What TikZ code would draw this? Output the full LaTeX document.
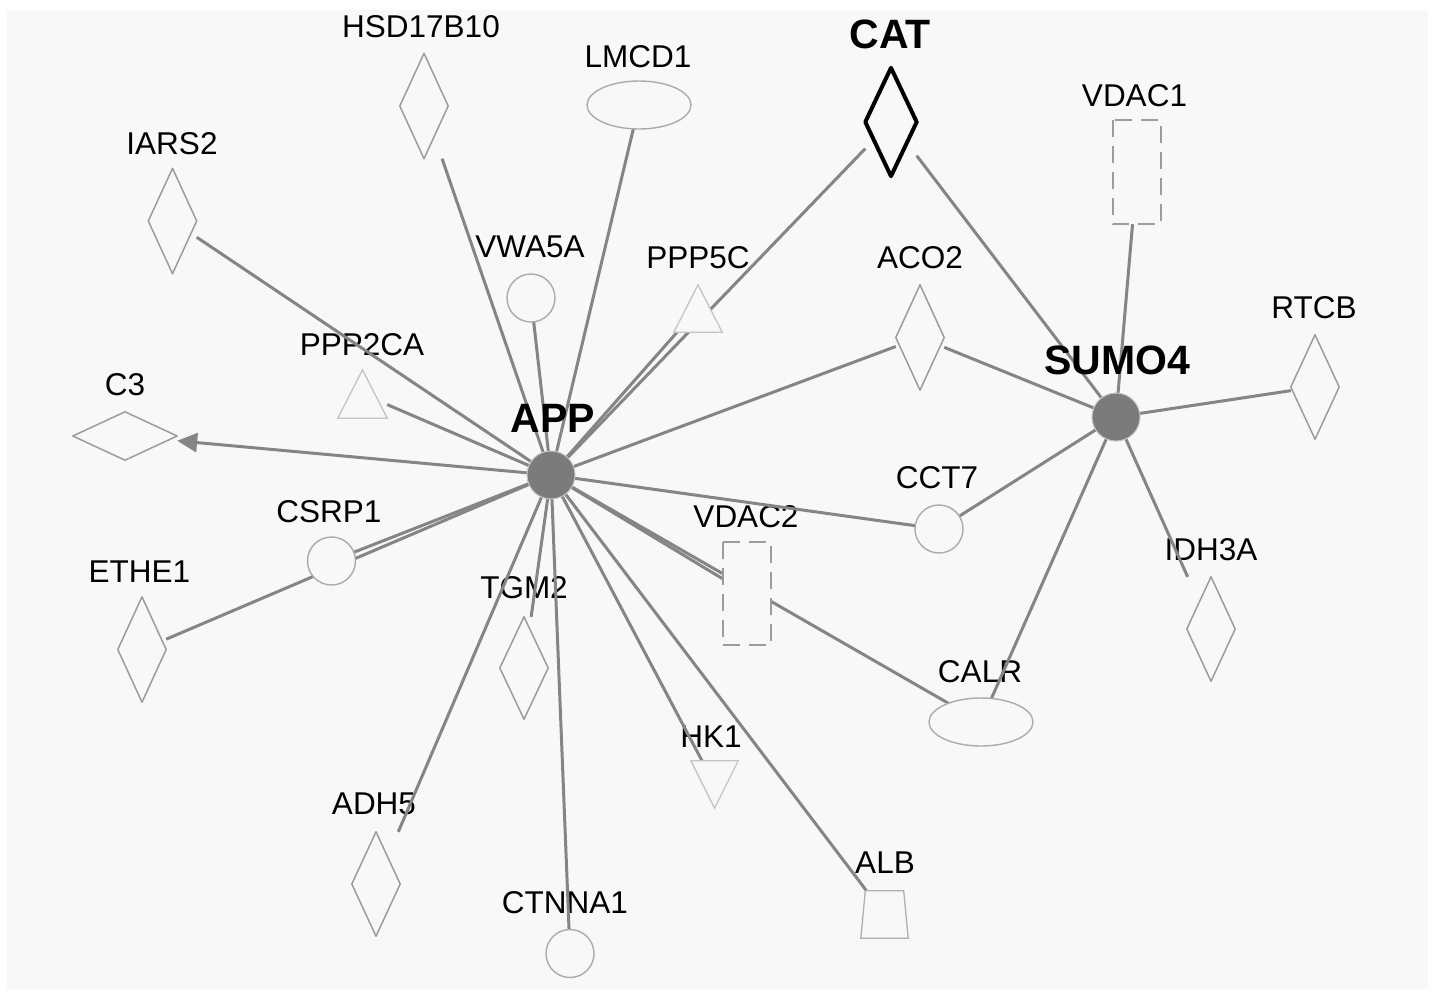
\documentclass[tikz,border=0pt]{standalone}
\usepackage{fontspec}
\setmainfont{Liberation Sans}
\usetikzlibrary{shapes.geometric,arrows.meta}
\definecolor{bggray}{HTML}{F8F8F8}
\definecolor{edgegray}{HTML}{858585}
\definecolor{outgray}{HTML}{9C9C9C}
\definecolor{trigray}{HTML}{C4C4C4}
\definecolor{hubgray}{HTML}{7B7B7B}
\begin{document}
\begin{tikzpicture}[x=1pt,y=-1pt,
  lbl/.style={anchor=base, inner sep=0pt, font=\fontsize{31.5}{36}\selectfont},
  blbl/.style={anchor=base, inner sep=0pt, font=\fontsize{41}{46}\selectfont\bfseries},
  bx/.style 2 args={rectangle, inner sep=0pt, minimum width=#1pt, minimum height=#2pt},
  cb/.style={circle, inner sep=0pt, minimum size=48pt},
  eb/.style={ellipse, inner sep=0pt, minimum width=104pt, minimum height=48pt},
  link/.style={draw=edgegray, line width=3pt},
  dia/.style={draw=outgray, line width=1.5pt, fill=bggray, line join=round},
  catdia/.style={draw=black, line width=4pt, fill=bggray, line join=round},
  tri/.style={draw=trigray, line width=1.3pt, fill=bggray},
  circ/.style={draw=outgray!85, line width=1.4pt, fill=bggray},
  dashbox/.style={draw=outgray, line width=1.8pt, fill=bggray, dash pattern=on 17pt off 9pt},
  hub/.style={fill=hubgray, draw=hubgray!45, line width=1pt}
]
\useasboundingbox (0,0) rectangle (1432,991);
\fill[white] (0,0) rectangle (1432,991);
\fill[bggray] (7,10) rectangle (1428,989);

% node anchors (invisible)
\node[bx={48}{105}] (HSD) at (424,106) {};
\node[bx={48}{105}] (IARS2) at (172.5,221) {};
\node[eb] (LMCD1) at (639,105) {};
\node[bx={51}{108}] (CAT) at (891,122) {};
\node[bx={48}{104}] (VDAC1) at (1137,172) {};
\node[cb] (VWA5A) at (531,298) {};
\node[bx={48}{47}] (PPP5C) at (698,308.5) {};
\node[bx={48}{105}] (ACO2) at (920,337.5) {};
\node[bx={48}{104}] (RTCB) at (1315,387) {};
\node[cb] (SUMO4) at (1116,417) {};
\node[cb] (APP) at (551,475) {};
\node[bx={49}{48}] (PPP2CA) at (362.5,394) {};
\node[bx={104}{48}] (C3) at (125,436) {};
\node[cb] (CSRP1) at (331.5,561) {};
\node[bx={48}{105}] (ETHE1) at (142,649.5) {};
\node[cb] (CCT7) at (939,529) {};
\node[bx={48}{103}] (VDAC2) at (747,593.5) {};
\node[bx={48}{102}] (TGM2) at (524,668) {};
\node[bx={48}{104}] (IDH3A) at (1211,629) {};
\node[eb] (CALR) at (981,722) {};
\node[bx={47}{47}] (HK1) at (714.5,784.5) {};
\node[bx={48}{104}] (ADH5) at (376,884) {};
\node[bx={47}{47}] (ALB) at (884.5,914.5) {};
\node[cb] (CTNNA1) at (570,953.5) {};

% regular labels
\node[lbl] (lHSD) at (421,37) {HSD17B10};
\node[lbl] (lLMCD1) at (638,67) {LMCD1};
\node[lbl] (lVDAC1) at (1134.5,106) {VDAC1};
\node[lbl] (lIARS2) at (172,154) {IARS2};
\node[lbl] (lVWA5A) at (530,257) {VWA5A};
\node[lbl] (lPPP5C) at (698,268) {PPP5C};
\node[lbl] (lACO2) at (920,268) {ACO2};
\node[lbl] (lRTCB) at (1314,318) {RTCB};
\node[lbl] (lPPP2CA) at (362,355) {PPP2CA};
\node[lbl] (lC3) at (125,395) {C3};
\node[lbl] (lCSRP1) at (329,522) {CSRP1};
\node[lbl] (lETHE1) at (139.5,582) {ETHE1};
\node[lbl] (lCCT7) at (937,488) {CCT7};
\node[lbl] (lVDAC2) at (746,527) {VDAC2};
\node[lbl] (lTGM2) at (524,598) {TGM2};
\node[lbl] (lIDH3A) at (1211,560) {IDH3A};
\node[lbl] (lCALR) at (980,682) {CALR};
\node[lbl] (lHK1) at (711,747) {HK1};
\node[lbl] (lADH5) at (374,814) {ADH5};
\node[lbl] (lALB) at (885,873) {ALB};
\node[lbl] (lCTNNA1) at (565,913) {CTNNA1};

% connectors
\foreach \t in {IARS2,HSD,LMCD1,VWA5A,PPP5C,CAT,ACO2,CCT7,VDAC2,CALR,ALB,HK1,CTNNA1,TGM2,ADH5,CSRP1,ETHE1,PPP2CA}
  \draw[link] (APP) -- (\t);
\draw[link, -{Triangle[length=20pt,width=19pt]}] (APP) -- (C3);
\foreach \t in {CAT,VDAC1,ACO2,RTCB,IDH3A,CALR,CCT7}
  \draw[link] (SUMO4) -- (\t);

% shapes
\foreach \n in {HSD,IARS2,ACO2,RTCB,ETHE1,TGM2,IDH3A,ADH5,C3}
  \draw[dia] (\n.north) -- (\n.east) -- (\n.south) -- (\n.west) -- cycle;
\draw[catdia] (CAT.north) -- (CAT.east) -- (CAT.south) -- (CAT.west) -- cycle;
\foreach \n in {PPP5C,PPP2CA}
  \draw[tri] (\n.north) -- (\n.south east) -- (\n.south west) -- cycle;
\draw[tri] (HK1.south) -- (HK1.north east) -- (HK1.north west) -- cycle;
\draw[tri, draw=outgray!80] ([xshift=4.5pt]ALB.north west) -- ([xshift=-4.5pt]ALB.north east) -- (ALB.south east) -- (ALB.south west) -- cycle;
\foreach \n in {VDAC1,VDAC2}
  \draw[dashbox] (\n.north west) rectangle (\n.south east);
\foreach \n in {VWA5A,CSRP1,CCT7,CTNNA1}
  \draw[circ] (\n.center) circle[radius=24pt];
\foreach \n in {LMCD1,CALR}
  \draw[circ] (\n.center) ellipse[x radius=52pt, y radius=24pt];
\foreach \n in {APP,SUMO4}
  \draw[hub] (\n.center) circle[radius=24pt];

% bold labels
\node[blbl] (lCAT) at (890,48) {CAT};
\node[blbl] (lAPP) at (553,432) {APP};
\node[blbl] (lSUMO4) at (1117,374) {SUMO4};
\end{tikzpicture}
\end{document}
